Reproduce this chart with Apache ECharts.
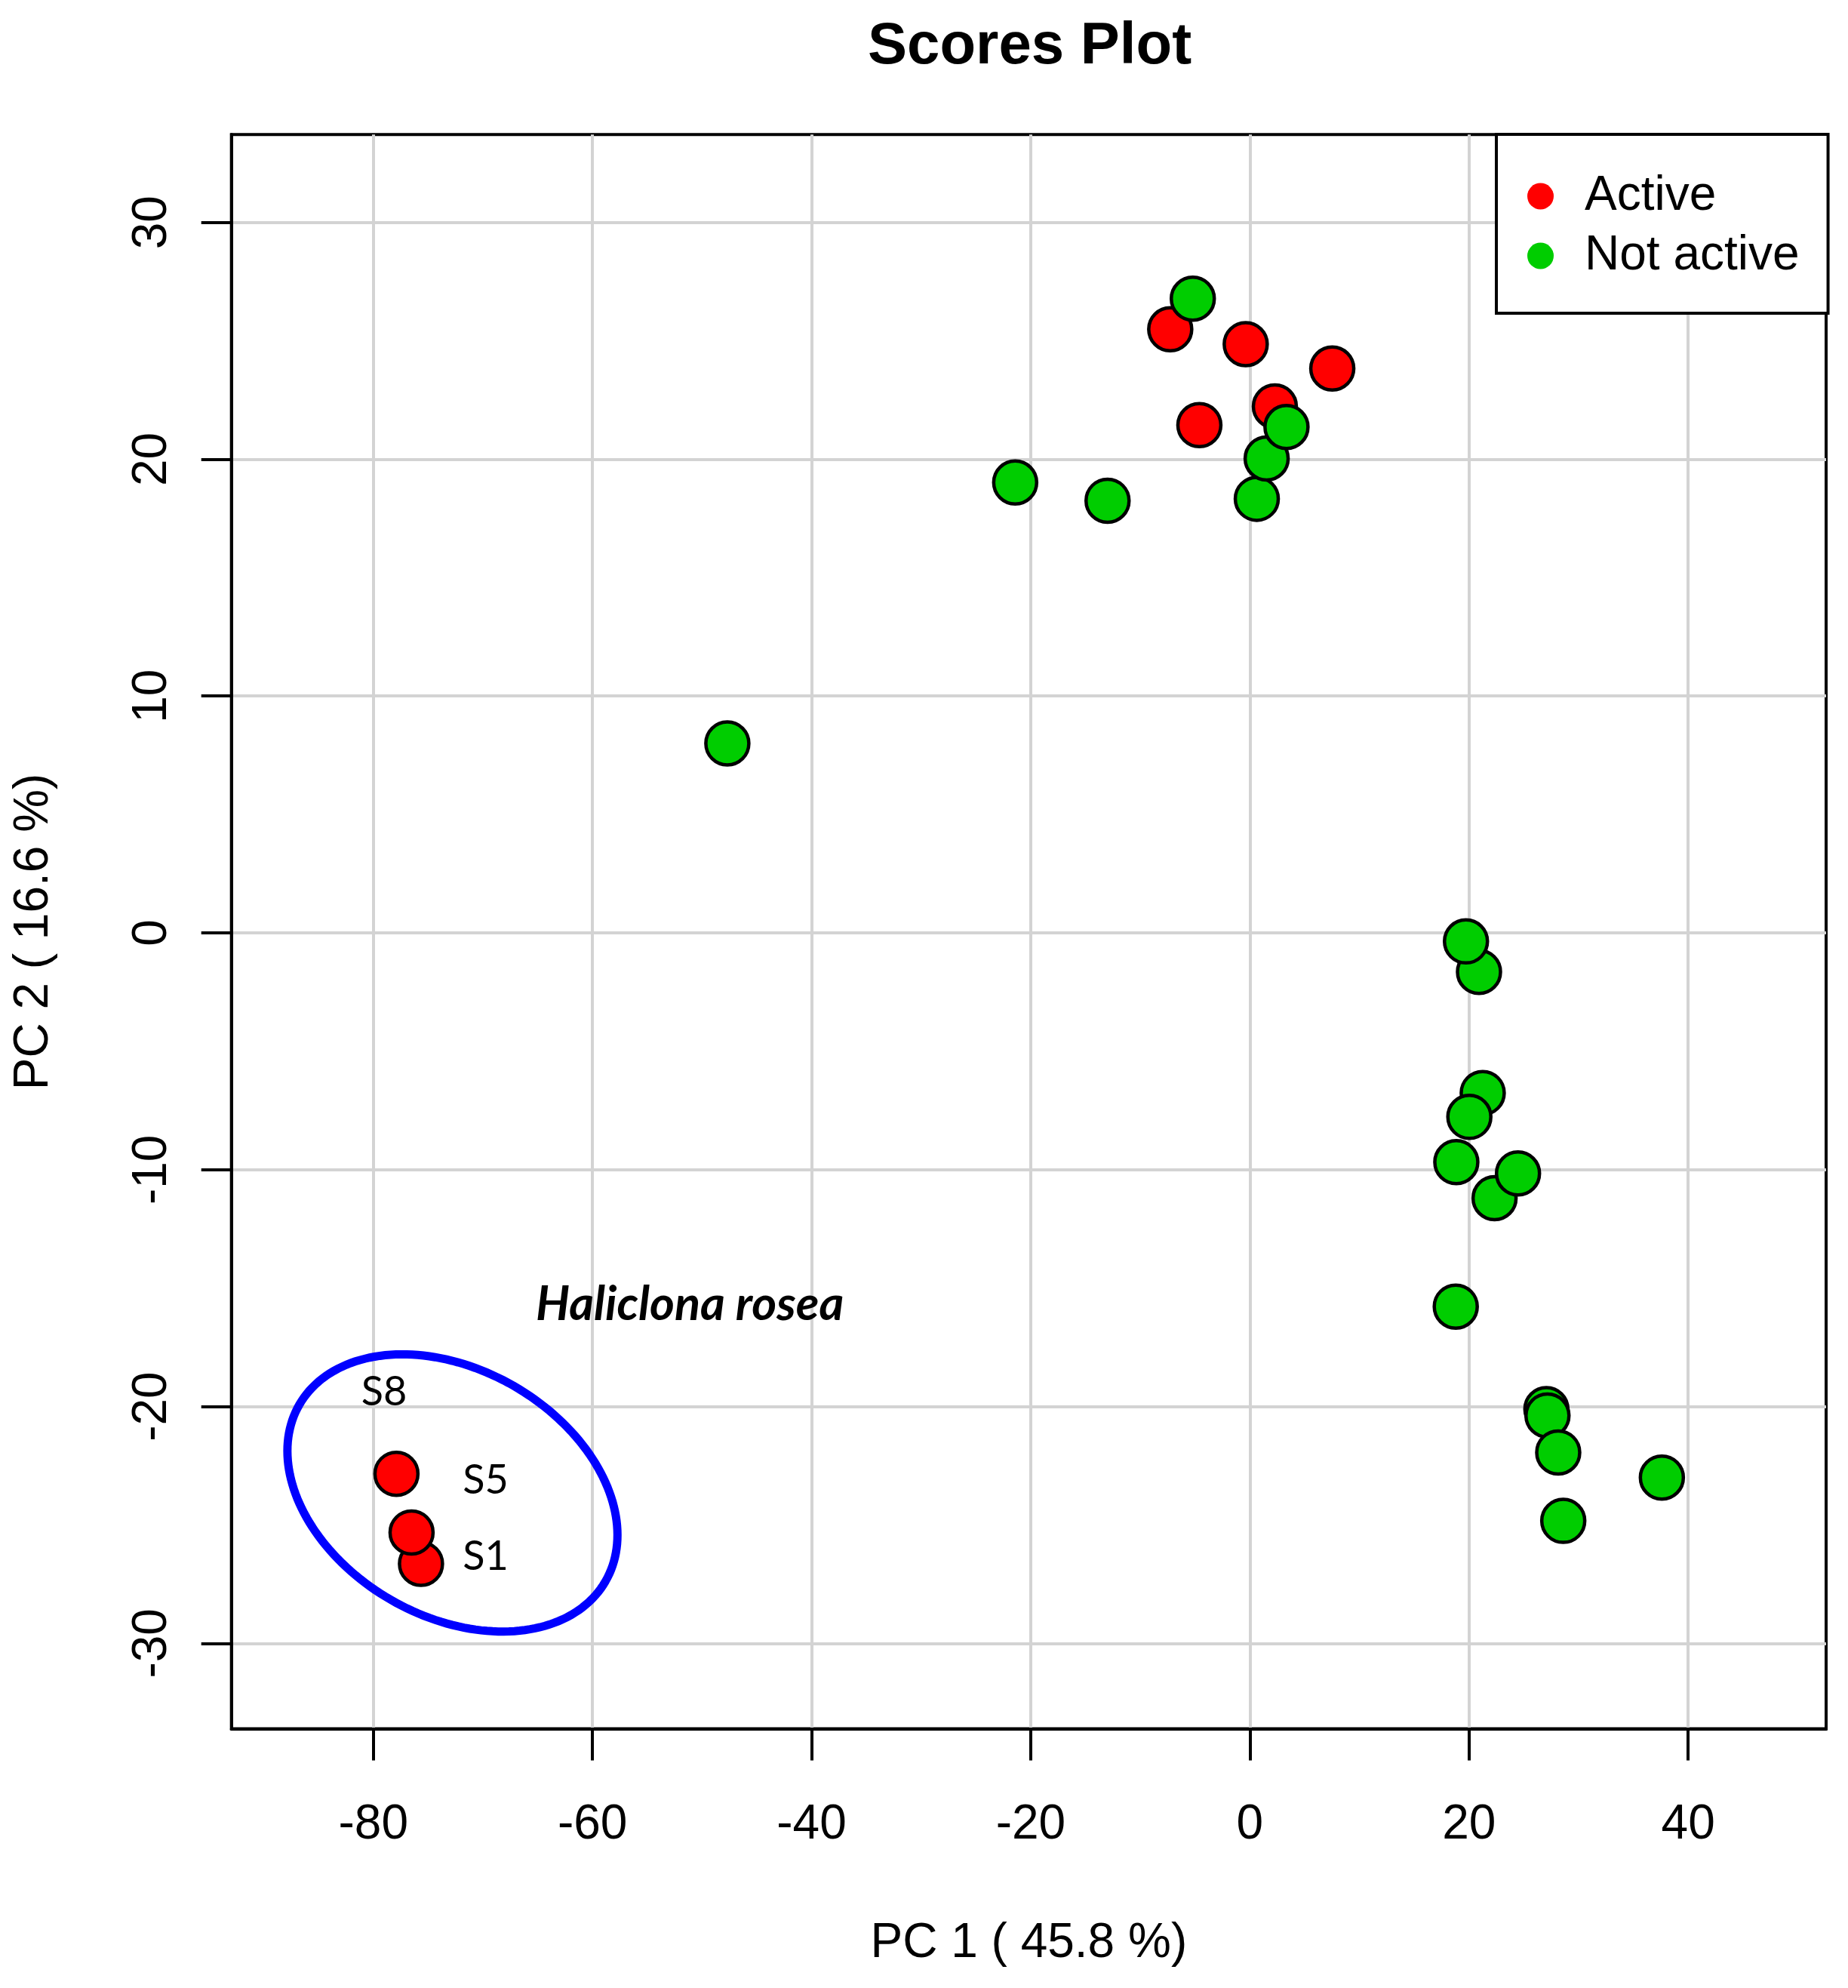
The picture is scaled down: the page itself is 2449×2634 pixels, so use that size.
<!DOCTYPE html>
<html>
<head>
<meta charset="utf-8">
<title>Scores Plot</title>
<script src="https://cdn.jsdelivr.net/npm/echarts@6/dist/echarts.min.js"></script>
<style>
  html, body { margin: 0; padding: 0; background: #fff; }
  #main { width: 2449px; height: 2634px; }
</style>
</head>
<body>
<div id="main"></div>
<script>
// PCA scores
const activePC1 = [-7.27, -0.38, 7.52, 2.28, -4.61, -77.89, -75.65, -76.51];
const activePC2 = [25.49, 24.86, 23.83, 22.23, 21.44, -22.84, -26.64, -25.32];
const inactivePC1 = [-21.42, -12.99, 0.63, 1.53, 3.34, -5.21, -47.69, 20.91, 19.72, 21.25,
  20.03, 18.84, 22.33, 24.47, 18.79, 27.06, 27.16, 28.14, 28.60, 37.60];
const inactivePC2 = [19.02, 18.25, 18.33, 20.03, 21.36, 26.78, 8.0, -1.65, -0.36, -6.76,
  -7.77, -9.68, -11.2, -10.16, -15.78, -20.11, -20.38, -21.94, -24.83, -23.0];

const xTicks = [-80, -60, -40, -20, 0, 20, 40];
const yTicks = [-30, -20, -10, 0, 10, 20, 30];

// ellipse round the Haliclona rosea group: centre, end of one axis, end of the other
const ellipseCentre = [-72.78, -23.65];
const ellipseAxisA = [-58.81, -27.38];
const ellipseAxisB = [-78.41, -28.16];

const sampleNames = ['S8', 'S5', 'S1'];
const samplePC1 = [-79.02, -69.75, -69.75];
const samplePC2 = [-19.41, -23.13, -26.34];
const speciesName = 'Haliclona rosea';
const speciesPos = [-51.12, -15.71];

const font = 'Liberation Sans, Arial, sans-serif';

function pairs (xs, ys) {
  return xs.map((x, i) => [x, ys[i]]);
}

var myChart = echarts.init(document.getElementById('main'));

var pointStyle = {
  borderColor: '#000',
  borderWidth: 4.5,
  opacity: 1
};

var option = {
  animation: false,
  backgroundColor: '#fff',
  title: {
    text: 'Scores Plot',
    left: 1150,
    top: 23,
    padding: 0,
    textStyle: { fontFamily: font, fontSize: 78, fontWeight: 'bold', color: '#000' }
  },
  legend: {
    data: ['Active', 'Not active'],
    orient: 'vertical',
    left: 1983,
    top: 178,
    padding: [50, 38, 44, 41],
    itemGap: 15,
    itemWidth: 35,
    itemHeight: 35,
    icon: 'circle',
    backgroundColor: '#fff',
    borderColor: '#000',
    borderWidth: 4,
    borderRadius: 0,
    itemStyle: { borderWidth: 0 },
    textStyle: { fontFamily: font, fontSize: 64, color: '#000', padding: [0, 0, 0, 36] },
    selectedMode: false
  },
  grid: {
    left: 306.7,
    top: 178.3,
    right: 29,
    bottom: 343.4,
    show: true,
    borderColor: '#000',
    borderWidth: 4,
    backgroundColor: 'transparent'
  },
  xAxis: {
    type: 'value',
    min: -92.95,
    max: 52.59,
    name: 'PC 1 ( 45.8 %)',
    nameLocation: 'middle',
    nameGap: 253,
    nameTextStyle: { fontFamily: font, fontSize: 64, color: '#000' },
    axisLine: { show: true, onZero: false, lineStyle: { color: '#000', width: 4 } },
    axisTick: { show: true, length: 42, customValues: xTicks, lineStyle: { color: '#000', width: 4 } },
    axisLabel: { customValues: xTicks, margin: 96, fontFamily: font, fontSize: 64, color: '#000' },
    splitLine: { show: true, lineStyle: { color: '#d3d3d3', width: 4 } }
  },
  yAxis: {
    type: 'value',
    min: -33.61,
    max: 33.71,
    name: 'PC 2 ( 16.6 %)',
    nameLocation: 'middle',
    nameGap: 229,
    nameTextStyle: { fontFamily: font, fontSize: 64, color: '#000' },
    axisLine: { show: true, onZero: false, lineStyle: { color: '#000', width: 4 } },
    axisTick: { show: true, length: 40, customValues: yTicks, lineStyle: { color: '#000', width: 4 } },
    axisLabel: { customValues: yTicks, rotate: 90, margin: 72, fontFamily: font, fontSize: 64, color: '#000' },
    splitLine: { show: true, lineStyle: { color: '#d3d3d3', width: 4 } }
  },
  series: [{
    name: 'ellipse',
    type: 'custom',
    silent: true,
    data: [ellipseCentre.concat(ellipseAxisA, ellipseAxisB)],
    encode: { x: 0, y: 1 },
    renderItem: function (params, api) {
      const c = api.coord([api.value(0), api.value(1)]);
      const a = api.coord([api.value(2), api.value(3)]);
      const b = api.coord([api.value(4), api.value(5)]);
      const pts = [];
      for (let i = 0; i < 180; i++) {
        const t = i / 180 * Math.PI * 2;
        pts.push([
          c[0] + (a[0] - c[0]) * Math.cos(t) + (b[0] - c[0]) * Math.sin(t),
          c[1] + (a[1] - c[1]) * Math.cos(t) + (b[1] - c[1]) * Math.sin(t)
        ]);
      }
      return {
        type: 'polygon',
        shape: { points: pts },
        style: { fill: 'none', stroke: '#0000ff', lineWidth: 11 }
      };
    }
  }, {
    name: 'Active',
    type: 'scatter',
    symbol: 'circle',
    symbolSize: 57,
    itemStyle: Object.assign({ color: '#ff0000' }, pointStyle),
    data: pairs(activePC1, activePC2)
  }, {
    name: 'Not active',
    type: 'scatter',
    symbol: 'circle',
    symbolSize: 57,
    itemStyle: Object.assign({ color: '#00cd00' }, pointStyle),
    data: pairs(inactivePC1, inactivePC2)
  }, {
    name: 'samples',
    type: 'scatter',
    silent: true,
    symbolSize: 1,
    itemStyle: { color: 'rgba(255,255,255,0)', opacity: 1 },
    label: {
      show: true,
      position: 'inside',
      formatter: '{b}',
      fontFamily: 'Lato, Open Sans, sans-serif',
      fontSize: 54,
      color: '#000',
      opacity: 1
    },
    data: sampleNames.map((n, i) => ({ name: n, value: [samplePC1[i], samplePC2[i]] }))
  }, {
    name: 'species',
    type: 'scatter',
    silent: true,
    symbolSize: 1,
    itemStyle: { color: 'rgba(255,255,255,0)', opacity: 1 },
    label: {
      show: true,
      position: 'inside',
      formatter: '{b}',
      fontFamily: 'Lato, Open Sans, sans-serif',
      fontSize: 63,
      fontWeight: 'bold',
      fontStyle: 'italic',
      color: '#000',
      opacity: 1
    },
    data: [{ name: speciesName, value: speciesPos }]
  }]
};

myChart.setOption(option);
</script>
</body>
</html>
